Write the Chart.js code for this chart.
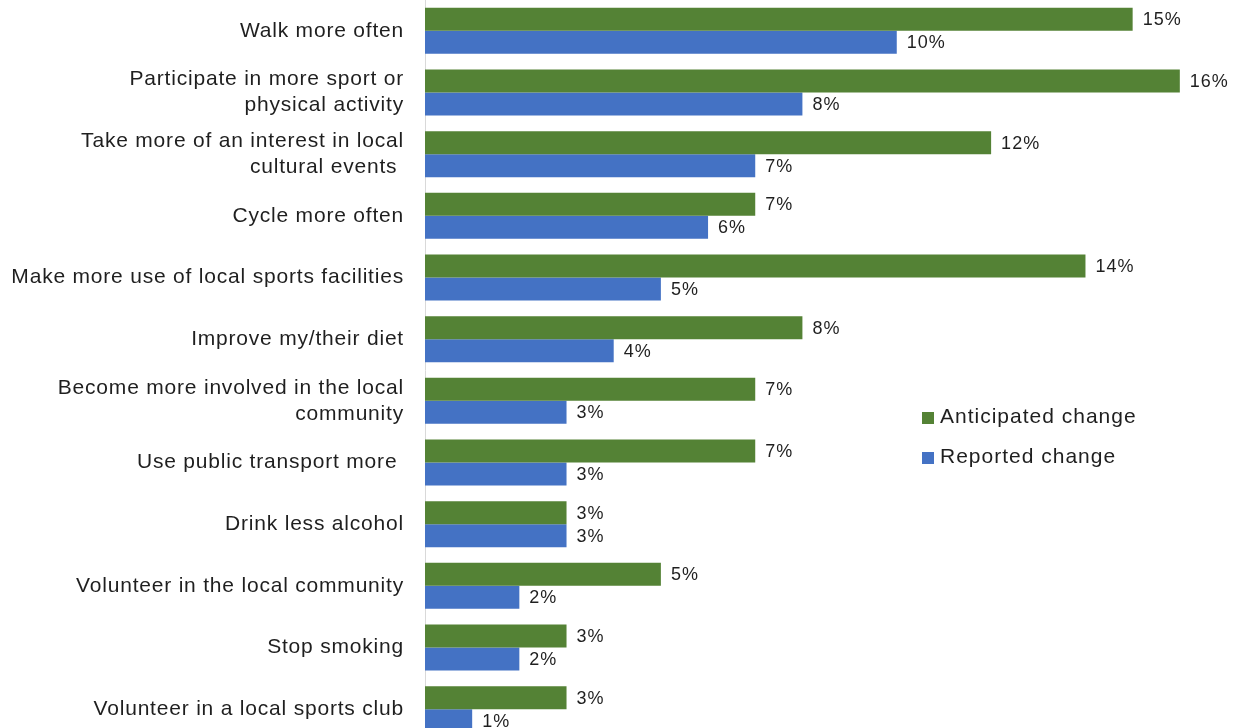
<!DOCTYPE html>
<html>
<head>
<meta charset="utf-8">
<title>Anticipated and reported change</title>
<script src="https://cdn.jsdelivr.net/npm/chart.js@4/dist/chart.umd.min.js"></script>
<style>
  html, body { margin: 0; padding: 0; background: #ffffff; overflow: hidden; }
  canvas { display: block; }
</style>
</head>
<body>
<canvas id="chart" width="1236" height="740"></canvas>
<script>
// Behaviour categories (multi-line labels are arrays)
const categories = [
  'Walk more often',
  ['Participate in more sport or', 'physical activity'],
  ['Take more of an interest in local', 'cultural events '],
  'Cycle more often',
  'Make more use of local sports facilities',
  'Improve my/their diet',
  ['Become more involved in the local', 'community'],
  'Use public transport more ',
  'Drink less alcohol',
  'Volunteer in the local community',
  'Stop smoking',
  'Volunteer in a local sports club'
];

// Percentages of respondents
const anticipatedChange = [15, 16, 12, 7, 14, 8, 7, 7, 3, 5, 3, 3];
const reportedChange    = [10, 8, 7, 6, 5, 4, 3, 3, 3, 2, 2, 1];

const seriesNames = ['Anticipated change', 'Reported change'];
const seriesColors = ['#548235', '#4472C4'];

const FONT = '"Liberation Sans", Arial, Helvetica, sans-serif';
const TEXT = '#1f1f1f';

// Slightly open tracking for all chart text
const tracking = {
  id: 'tracking',
  beforeDraw(chart) { chart.ctx.letterSpacing = '0.8px'; }
};

// Writes each bar's value just past its end
const valueLabels = {
  id: 'valueLabels',
  afterDatasetsDraw(chart) {
    const ctx = chart.ctx;
    ctx.save();
    ctx.letterSpacing = '1px';
    ctx.font = '18px ' + FONT;
    ctx.fillStyle = TEXT;
    ctx.textAlign = 'left';
    ctx.textBaseline = 'middle';
    chart.data.datasets.forEach((ds, i) => {
      const meta = chart.getDatasetMeta(i);
      meta.data.forEach((bar, j) => {
        ctx.fillText(ds.data[j] + '%', bar.x + 10, bar.y + 1);
      });
    });
    ctx.restore();
  }
};

// Square-marker legend placed inside the plot area, lower right
const insideLegend = {
  id: 'insideLegend',
  afterDraw(chart) {
    const ctx = chart.ctx;
    const x = 922, y0 = 417, step = 40, box = 12;
    ctx.save();
    ctx.letterSpacing = '1px';
    ctx.font = '21px ' + FONT;
    ctx.textBaseline = 'middle';
    ctx.textAlign = 'left';
    chart.data.datasets.forEach((ds, i) => {
      const y = y0 + i * step;
      ctx.fillStyle = ds.backgroundColor;
      ctx.fillRect(x, y - box / 2 + 1, box, box);
      ctx.fillStyle = TEXT;
      ctx.fillText(ds.label, x + 18, y);
    });
    ctx.restore();
  }
};

new Chart(document.getElementById('chart'), {
  type: 'bar',
  data: {
    labels: categories,
    datasets: [
      { label: seriesNames[0], data: anticipatedChange, backgroundColor: seriesColors[0] },
      { label: seriesNames[1], data: reportedChange, backgroundColor: seriesColors[1] }
    ]
  },
  options: {
    indexAxis: 'y',
    responsive: false,
    animation: false,
    devicePixelRatio: 1,
    categoryPercentage: 0.745,
    barPercentage: 1.0,
    layout: { padding: { left: 0, right: 9, top: 0, bottom: 0 } },
    plugins: {
      legend: { display: false },
      tooltip: { enabled: false }
    },
    scales: {
      x: {
        display: false,
        min: 0,
        max: 17
      },
      y: {
        afterFit(scale) {
          scale.width = 425;
          scale.paddingTop = 0;
          scale.paddingBottom = 0;
        },
        grid: { display: false, drawTicks: false },
        border: { display: true, color: '#d9d9d9', width: 1 },
        ticks: {
          color: TEXT,
          padding: 21,
          font: { family: FONT, size: 21, lineHeight: 1.24 }
        }
      }
    }
  },
  plugins: [tracking, valueLabels, insideLegend]
});
</script>
</body>
</html>
